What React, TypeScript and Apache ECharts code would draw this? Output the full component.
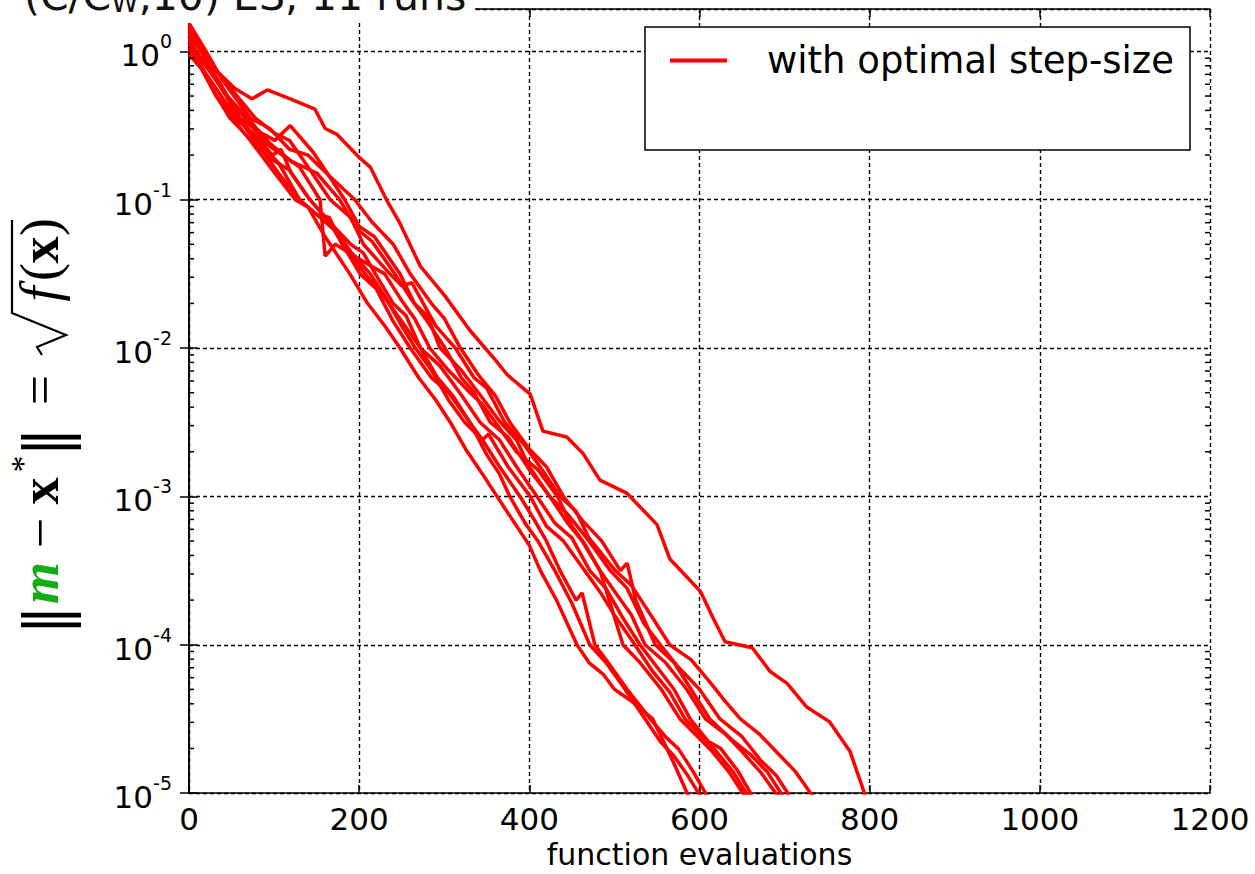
import React, { useEffect, useRef } from 'react';
import * as echarts from 'echarts';

// ---- data: [function evaluations, log10(||m - x*||)] ----
const runA: [number, number][] = [[0,0.15],[25,-0.09],[54,-0.25],[74,-0.32],[92,-0.26],[119,-0.32],[148,-0.39],[160,-0.52],[174,-0.56],[201,-0.72],[213,-0.78],[233,-1.01],[248,-1.16],[272,-1.45],[301,-1.65],[330,-1.88],[360,-2.08],[374,-2.18],[401,-2.31],[416,-2.56],[444,-2.6],[463,-2.71],[483,-2.89],[515,-2.98],[550,-3.19],[565,-3.42],[601,-3.64],[616,-3.82],[630,-3.98],[662,-4.02],[683,-4.18],[703,-4.26],[726,-4.42],[753,-4.52],[777,-4.72],[795,-5.02]];
const runB: [number, number][] = [[0,0.12],[20,-0.05],[45,-0.22],[78,-0.45],[100,-0.55],[118,-0.6],[140,-0.78],[166,-1.0],[190,-1.12],[205,-1.3],[236,-1.5],[250,-1.58],[262,-1.56],[290,-1.85],[313,-2.0],[335,-2.2],[350,-2.27],[371,-2.5],[395,-2.66],[415,-2.82],[436,-3.0],[455,-3.1],[470,-3.28],[501,-3.5],[520,-3.6],[545,-3.82],[565,-4.0],[590,-4.1],[612,-4.25],[630,-4.38],[648,-4.5],[670,-4.6],[690,-4.72],[712,-4.85],[733,-5.02]];
const runC: [number, number][] = [[0,0.05],[15,-0.05],[35,-0.2],[60,-0.45],[85,-0.55],[101,-0.6],[119,-0.5],[146,-0.68],[160,-0.8],[183,-1.0],[200,-1.18],[218,-1.25],[248,-1.5],[265,-1.7],[280,-1.78],[295,-2.0],[320,-2.15],[340,-2.3],[366,-2.5],[385,-2.62],[400,-2.8],[424,-3.0],[445,-3.12],[470,-3.3],[495,-3.5],[515,-3.62],[535,-3.86],[554,-4.0],[575,-4.15],[600,-4.3],[624,-4.5],[650,-4.62],[672,-4.78],[690,-4.88],[706,-5.02]];
const runD: [number, number][] = [[0,0.19],[18,0.02],[40,-0.2],[72,-0.45],[95,-0.52],[118,-0.66],[140,-0.7],[165,-0.84],[195,-1.0],[215,-1.15],[240,-1.3],[260,-1.5],[285,-1.7],[300,-1.8],[319,-2.0],[340,-2.18],[360,-2.32],[377,-2.5],[400,-2.68],[420,-2.8],[440,-3.0],[462,-3.16],[485,-3.3],[507,-3.5],[515,-3.45],[525,-3.7],[548,-4.0],[570,-4.12],[590,-4.3],[612,-4.5],[640,-4.65],[660,-4.74],[680,-4.86],[698,-5.02]];
const runE: [number, number][] = [[0,0.08],[20,-0.1],[42,-0.28],[66,-0.45],[90,-0.62],[110,-0.7],[130,-0.78],[154,-1.0],[160,-1.38],[172,-1.3],[200,-1.4],[230,-1.5],[250,-1.68],[265,-1.8],[283,-2.0],[305,-2.15],[330,-2.3],[345,-2.38],[360,-2.5],[385,-2.7],[410,-2.82],[433,-3.0],[450,-3.2],[465,-3.32],[483,-3.5],[505,-3.68],[520,-3.8],[536,-4.0],[560,-4.12],[585,-4.3],[607,-4.5],[630,-4.6],[650,-4.72],[672,-4.86],[692,-5.02]];
const runF: [number, number][] = [[0,-0.02],[15,-0.12],[32,-0.3],[54,-0.45],[75,-0.55],[98,-0.7],[108,-0.66],[120,-0.82],[142,-1.0],[165,-1.15],[190,-1.3],[205,-1.36],[219,-1.5],[240,-1.7],[255,-1.78],[272,-2.0],[295,-2.12],[318,-2.3],[342,-2.5],[365,-2.62],[385,-2.8],[409,-3.0],[430,-3.18],[450,-3.28],[471,-3.5],[490,-3.62],[510,-3.82],[530,-4.0],[550,-4.15],[570,-4.3],[589,-4.5],[610,-4.65],[625,-4.7],[645,-4.85],[662,-5.02]];
const runG: [number, number][] = [[0,0.13],[18,-0.02],[38,-0.25],[60,-0.45],[80,-0.6],[105,-0.75],[130,-1.0],[150,-1.1],[170,-1.2],[201,-1.5],[220,-1.6],[240,-1.82],[260,-2.0],[285,-2.2],[305,-2.3],[330,-2.5],[345,-2.62],[352,-2.58],[375,-2.8],[401,-3.0],[420,-3.2],[440,-3.3],[465,-3.5],[485,-3.66],[500,-3.8],[524,-4.0],[545,-4.18],[565,-4.32],[583,-4.5],[600,-4.6],[620,-4.72],[640,-4.86],[657,-5.02]];
const runH: [number, number][] = [[0,0.17],[22,-0.08],[45,-0.3],[69,-0.45],[95,-0.62],[120,-0.74],[150,-0.82],[177,-1.0],[198,-1.2],[215,-1.28],[242,-1.5],[260,-1.66],[280,-1.82],[301,-2.0],[320,-2.2],[335,-2.3],[354,-2.5],[375,-2.6],[400,-2.82],[424,-3.0],[445,-3.18],[462,-3.3],[483,-3.5],[495,-3.72],[510,-4.0],[530,-4.12],[555,-4.3],[577,-4.5],[598,-4.62],[615,-4.72],[635,-4.86],[653,-5.02]];
const runI: [number, number][] = [[0,0.1],[15,-0.1],[30,-0.28],[48,-0.45],[70,-0.58],[95,-0.72],[118,-0.8],[142,-1.0],[165,-1.15],[190,-1.35],[213,-1.5],[230,-1.65],[250,-1.85],[266,-2.0],[285,-2.15],[305,-2.35],[324,-2.5],[345,-2.62],[365,-2.8],[389,-3.0],[405,-3.15],[420,-3.3],[436,-3.5],[455,-3.7],[462,-3.65],[477,-4.0],[490,-4.1],[515,-4.3],[542,-4.5],[560,-4.62],[575,-4.7],[592,-4.85],[609,-5.02]];
const runJ: [number, number][] = [[0,0.02],[20,-0.15],[40,-0.32],[58,-0.45],[80,-0.62],[105,-0.82],[130,-1.0],[150,-1.1],[165,-1.12],[180,-1.3],[207,-1.5],[225,-1.62],[250,-1.82],[272,-2.0],[292,-2.2],[310,-2.32],[330,-2.5],[350,-2.72],[365,-2.85],[377,-3.0],[395,-3.18],[410,-3.3],[430,-3.5],[450,-3.72],[471,-4.0],[490,-4.12],[510,-4.28],[536,-4.5],[555,-4.66],[570,-4.75],[586,-4.88],[601,-5.02]];
const runK: [number, number][] = [[0,0.06],[15,-0.12],[32,-0.3],[51,-0.45],[72,-0.6],[98,-0.8],[125,-1.0],[140,-1.05],[160,-1.25],[189,-1.5],[210,-1.7],[230,-1.85],[248,-2.0],[270,-2.2],[290,-2.35],[307,-2.5],[325,-2.68],[345,-2.85],[362,-3.0],[385,-3.2],[400,-3.33],[413,-3.5],[432,-3.7],[456,-4.0],[470,-4.12],[487,-4.2],[500,-4.3],[520,-4.38],[545,-4.5],[555,-4.62],[570,-4.8],[587,-5.02]];

const allRuns = [runA, runB, runC, runD, runE, runF, runG, runH, runI, runJ, runK];

const legendLabel = 'with optimal step-size';
const xAxisName = 'function evaluations';
const X_MIN = 0;
const X_MAX = 1200;
const X_STEP = 200;
const Y_MIN = 1e-5;
const Y_MAX = 1.93;
const decades = [-5, -4, -3, -2, -1, 0];
const minorMantissas = [2, 3, 4, 5, 6, 7, 8, 9];

export default function App() {
  const ref = useRef<HTMLDivElement>(null);

  useEffect(() => {
    if (!ref.current) return;
    const chart = echarts.init(ref.current, null, { renderer: 'svg' });

    const minorTicks: [number, number][] = [];
    decades.forEach((d) => {
      minorMantissas.forEach((m) => {
        const v = m * Math.pow(10, d);
        if (v < Y_MAX) minorTicks.push([0, v]);
      });
    });

    const axisLineStyle = { color: '#000', width: 1.5 };
    const gridLineStyle = { color: '#000', width: 1.4, type: [4, 3] as any };

    const runSeries = allRuns.map((run) => ({
      type: 'line',
      name: legendLabel,
      data: run.map(([x, e]) => [x, Math.pow(10, e)]),
      showSymbol: false,
      symbol: 'none',
      lineStyle: { color: '#ff0000', width: 3.5 },
      itemStyle: { color: '#ff0000' },
      clip: true,
      z: 2,
    }));

    const serif = '"Liberation Serif", "DejaVu Serif", serif';
    const mathFont = (size: number, weight = 'normal', style = 'normal', family = serif) =>
      `${style} ${weight} ${size}px ${family}`;

    const fs = 54;

    const tok = (text: string, cx: number, font: string, fill = '#000', dy = 0, size = fs) => ({
      type: 'text',
      x: cx,
      y: -0.34 * size + dy,
      style: { text, font, fill, align: 'center', verticalAlign: 'middle' },
    });

    const option: any = {
      animation: false,
      backgroundColor: '#fff',
      grid: { left: 189, right: 45, top: 9, bottom: 69, containLabel: false },
      legend: {
        data: [legendLabel],
        left: 670,
        top: 42,
        icon: 'rect',
        itemWidth: 57,
        itemHeight: 4,
        padding: 0,
        z: 60,
        selectedMode: false,
        textStyle: { fontSize: 37, color: '#000', fontFamily: 'DejaVu Sans', padding: [0, 0, 0, 35] },
      },
      xAxis: [
        {
          type: 'value',
          min: X_MIN,
          max: X_MAX,
          interval: X_STEP,
          position: 'bottom',
          axisLine: { show: true, lineStyle: axisLineStyle },
          axisTick: { show: true, inside: true, length: 8, lineStyle: axisLineStyle },
          axisLabel: { color: '#000', fontSize: 31, fontFamily: 'DejaVu Sans', margin: 10, formatter: (v: number) => String(v) },
          splitLine: { show: true, lineStyle: gridLineStyle },
          name: xAxisName,
          nameLocation: 'middle',
          nameGap: 44,
          nameTextStyle: { fontSize: 30, color: '#000', fontFamily: 'DejaVu Sans' },
        },
        {
          type: 'value',
          min: X_MIN,
          max: X_MAX,
          interval: X_STEP,
          position: 'top',
          axisLine: { show: true, lineStyle: axisLineStyle },
          axisTick: { show: true, inside: true, length: 8, lineStyle: axisLineStyle },
          axisLabel: { show: false },
          splitLine: { show: false },
        },
      ],
      yAxis: [
        {
          type: 'log',
          logBase: 10,
          min: Y_MIN,
          max: Y_MAX,
          position: 'left',
          axisLine: { show: true, lineStyle: axisLineStyle },
          axisTick: { show: true, inside: true, length: 9, lineStyle: axisLineStyle },
          axisLabel: {
            margin: 17,
            formatter: (v: number) => {
              const e = Math.log10(v);
              const r = Math.round(e);
              if (Math.abs(e - r) > 1e-6) return '';
              return `{b|10}{s|${r}}`;
            },
            rich: {
              b: { fontSize: 31, fontFamily: 'DejaVu Sans', color: '#000', padding: [8, 0, 0, 0], verticalAlign: 'bottom' },
              s: { fontSize: 19, fontFamily: 'DejaVu Sans', color: '#000', verticalAlign: 'top' },
            },
          },
          splitLine: { show: true, lineStyle: gridLineStyle },
        },
        {
          type: 'log',
          logBase: 10,
          min: Y_MIN,
          max: Y_MAX,
          position: 'right',
          axisLine: { show: true, lineStyle: axisLineStyle },
          axisTick: { show: true, inside: true, length: 9, lineStyle: axisLineStyle },
          axisLabel: { show: false },
          splitLine: { show: false },
        },
      ],
      series: [
        ...runSeries,
        {
          type: 'custom',
          name: 'minor ticks',
          xAxisIndex: 0,
          yAxisIndex: 0,
          silent: true,
          z: 3,
          data: minorTicks,
          renderItem: (_params: any, api: any) => {
            const p = api.coord([X_MIN, api.value(1)]);
            const q = api.coord([X_MAX, api.value(1)]);
            return {
              type: 'group',
              children: [
                { type: 'line', shape: { x1: p[0], y1: p[1], x2: p[0] + 5, y2: p[1] }, style: { stroke: '#000', lineWidth: 1.5 } },
                { type: 'line', shape: { x1: q[0] - 5, y1: q[1], x2: q[0], y2: q[1] }, style: { stroke: '#000', lineWidth: 1.5 } },
              ],
            };
          },
        },
      ],
      graphic: {
        elements: [
          {
            type: 'rect',
            z: 50,
            shape: { x: 645, y: 27, width: 545, height: 123 },
            style: { fill: '#fff', stroke: '#000', lineWidth: 1.5 },
          },
          {
            type: 'rect',
            z: 100,
            shape: { x: 0, y: 0, width: 475, height: 23 },
            style: { fill: '#fff' },
          },
          {
            type: 'text',
            z: 101,
            x: 24,
            y: 16,
            style: {
              text: '(C/C{sub|W},10) ES, 11 runs',
              fontSize: 41,
              fontFamily: 'DejaVu Sans',
              fill: '#111',
              align: 'left',
              verticalAlign: 'bottom',
              rich: {
                sub: { fontSize: 28, fontFamily: 'DejaVu Sans', fill: '#111', verticalAlign: 'bottom' },
              },
            },
          },
          {
            type: 'group',
            x: 58,
            y: 627,
            rotation: Math.PI / 2,
            z: 100,
            children: [
              tok('‖', 7, mathFont(60, 'normal', 'normal', '"DejaVu Serif", serif'), '#000', 8, 60),
              tok('m', 44, mathFont(fs, 'bold', 'italic'), '#13ad13'),
              tok('−', 94, mathFont(fs)),
              tok('x', 136, mathFont(fs, 'bold')),
              tok('*', 163, mathFont(34), '#000', -24, 34),
              tok('‖', 185, mathFont(60, 'normal', 'normal', '"DejaVu Serif", serif'), '#000', 8, 60),
              tok('=', 237, mathFont(fs)),
              tok('f', 333, mathFont(fs, 'normal', 'italic')),
              tok('(', 355, mathFont(fs)),
              tok('x', 377, mathFont(fs, 'bold')),
              tok(')', 400, mathFont(fs)),
              {
                type: 'polyline',
                shape: { points: [[272, -16], [280, -21], [292, 8], [314, -46], [407, -46]] },
                style: { stroke: '#000', lineWidth: 2.2, fill: null },
              },
            ],
          },
        ],
      },
    };

    chart.setOption(option);
    return () => chart.dispose();
  }, []);

  return (
    <div
      ref={ref}
      style={{ position: 'fixed', left: 0, top: 0, width: 1255, height: 874, background: '#fff' }}
    />
  );
}
